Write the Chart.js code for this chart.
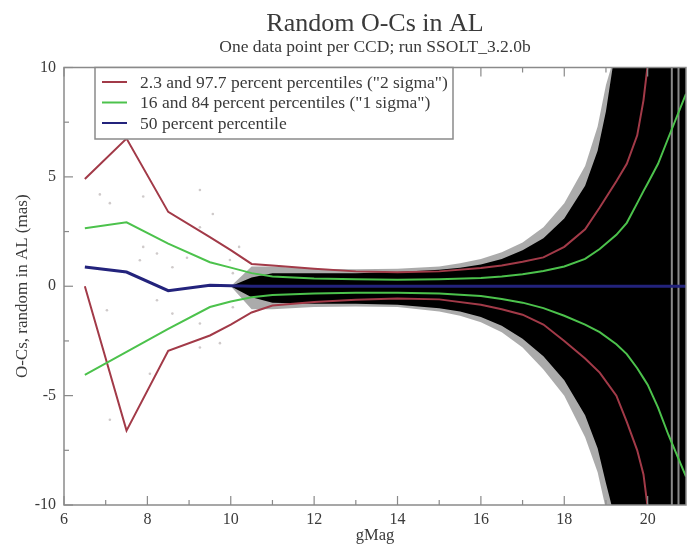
<!DOCTYPE html>
<html>
<head>
<meta charset="utf-8">
<script src="https://cdn.jsdelivr.net/npm/chart.js@4.4.0/dist/chart.umd.min.js"></script>
<style>
  html, body { margin: 0; padding: 0; background: #fff; }
  canvas { display: block; }
</style>
</head>
<body>
<canvas id="ocChart" width="687" height="546"></canvas>
<script>
// percentile curves, sampled in gMag
var pctMag = [6.5, 7.5, 8.5, 9.5, 10, 10.5, 11, 12, 13, 14, 15, 16, 16.5, 17, 17.5, 18, 18.5, 18.85, 19.25, 19.5, 19.75, 19.9, 20, 20.25, 20.5, 20.92];
var p977 = [4.9, 6.75, 3.4, 2.25, 1.65, 1.02, 0.95, 0.8, 0.68, 0.64, 0.68, 0.83, 0.95, 1.12, 1.32, 1.8, 2.6, 3.6, 4.8, 5.6, 6.9, 8.5, 10.1, 14, 18, 25];
var p023 = [0, -6.6, -2.95, -2.25, -1.75, -1.2, -0.88, -0.72, -0.62, -0.56, -0.6, -0.85, -1.05, -1.3, -1.75, -2.5, -3.3, -3.95, -5.0, -6.2, -7.5, -8.6, -10.1, -14, -18, -25];
var p84 = [2.65, 2.92, 1.95, 1.1, 0.85, 0.6, 0.45, 0.35, 0.32, 0.3, 0.32, 0.38, 0.45, 0.55, 0.7, 0.9, 1.25, 1.7, 2.35, 2.9, 3.8, 4.35, 4.7, 5.6, 6.8, 8.8];
var p16 = [-4.05, -3.0, -1.95, -0.95, -0.7, -0.5, -0.4, -0.33, -0.3, -0.3, -0.33, -0.45, -0.58, -0.75, -1.0, -1.35, -1.75, -2.1, -2.65, -3.1, -3.75, -4.2, -4.5, -5.55, -6.8, -8.7];
var p50 = [0.88, 0.65, -0.2, 0.05, 0.02, 0, 0, 0, 0, 0, 0, 0, 0, 0, 0, 0, 0, 0, 0, 0, 0, 0, 0, 0, 0, 0];

// envelope of the dense point cloud (outer = sparse edge, inner = solid black)
var cloudMag = [10.0, 10.5, 11.0, 12.0, 13.0, 14.0, 15.0, 15.5, 16.0, 16.5, 17.0, 17.5, 18.0, 18.5, 18.8, 19.0, 19.2, 20.92];
var outerTop = [0.0, 0.9, 0.9, 0.8, 0.78, 0.8, 0.9, 1.05, 1.25, 1.55, 2.0, 2.7, 3.8, 5.5, 7.3, 9.2, 10.5, 10.5];
var outerBottom = [0.0, -1.05, -1.05, -0.95, -0.92, -0.95, -1.15, -1.35, -1.65, -2.1, -2.8, -3.8, -5.0, -6.9, -8.5, -10.2, -10.5, -10.5];
var innerTop = [0.0, 0.4, 0.6, 0.6, 0.6, 0.65, 0.75, 0.85, 1.0, 1.25, 1.65, 2.2, 3.1, 4.6, 6.2, 8.0, 10.5, 10.5];
var innerBottom = [0.0, -0.5, -0.75, -0.8, -0.8, -0.85, -1.0, -1.15, -1.4, -1.8, -2.4, -3.2, -4.3, -5.9, -7.4, -9.0, -10.5, -10.5];

// sparse bright-star points
var brightMag = [7.1, 7.82, 7.9, 8.23, 8.6, 8.95, 9.26, 9.57, 9.98, 10.05, 10.2, 7.03, 8.23, 8.6, 9.26, 9.74, 10.05, 8.06, 7.1, 9.26, 6.86, 9.26, 7.9];
var brightOC = [3.8, 1.19, 1.8, 1.5, 0.87, 1.3, 2.7, 3.3, 1.2, 0.6, 1.8, -1.1, -0.64, -1.25, -1.7, -2.6, -0.96, -4.0, -6.1, -2.8, 4.2, 4.4, 4.1];

// gap stripes at the faint end
var stripeMag = [20.58, 20.74];

var xTicksMajor = [6, 8, 10, 12, 14, 16, 18, 20];
var yTicksMajor = [-10, -5, 0, 5, 10];

var serif = "'Liberation Serif', 'Times New Roman', serif";
var textColor = '#3a3a3a';

function pts(xs, ys) {
    return xs.map(function (x, i) { return { x: x, y: ys[i] }; });
}

function curve(label, ys, color, width, legendLabel) {
    return {
        label: label,
        legendLabel: legendLabel,
        data: pts(pctMag, ys),
        borderColor: color,
        borderWidth: width,
        pointRadius: 0,
        tension: 0,
        fill: false,
        order: 1
    };
}

var datasets = [
    curve('p50', p50, '#23237c', 3, '50 percent percentile'),
    curve('p84', p84, '#4cc24c', 2, '16 and 84 percent percentiles ("1 sigma")'),
    curve('p16', p16, '#4cc24c', 2),
    curve('p977', p977, '#a23a48', 2, '2.3 and 97.7 percent percentiles ("2 sigma")'),
    curve('p023', p023, '#a23a48', 2),
    {
        label: 'bright',
        type: 'scatter',
        data: pts(brightMag, brightOC),
        pointRadius: 1.3,
        pointBackgroundColor: 'rgba(160,150,150,0.5)',
        pointBorderWidth: 0,
        order: 5
    }
];

stripeMag.forEach(function (m) {
    datasets.push({
        label: 'stripe',
        data: [{ x: m, y: -10 }, { x: m, y: 10 }],
        borderColor: '#8a8a8a',
        borderWidth: 2,
        pointRadius: 0,
        fill: false,
        order: 6
    });
});

datasets.push(
    { label: 'innerTop', data: pts(cloudMag, innerTop), borderWidth: 0, pointRadius: 0, fill: '+1', backgroundColor: '#000', order: 8 },
    { label: 'innerBottom', data: pts(cloudMag, innerBottom), borderWidth: 0, pointRadius: 0, fill: false, order: 8 },
    { label: 'outerTop', data: pts(cloudMag, outerTop), borderWidth: 0, pointRadius: 0, fill: '+1', backgroundColor: 'rgba(0,0,0,0.33)', order: 9 },
    { label: 'outerBottom', data: pts(cloudMag, outerBottom), borderWidth: 0, pointRadius: 0, fill: false, order: 9 }
);

// inward tick marks + frame on top/right
var frameTicks = {
    id: 'frameTicks',
    afterDatasetsDraw: function (chart) {
        var c = chart.ctx, a = chart.chartArea;
        var xs = chart.scales.x, ys = chart.scales.y;
        c.save();
        c.strokeStyle = '#8a8a8a';
        c.lineWidth = 1.5;
        c.strokeRect(a.left, a.top, a.right - a.left, a.bottom - a.top);
        c.lineWidth = 1.2;
        for (var m = 6; m <= 20; m++) {
            var px = xs.getPixelForValue(m);
            var len = (m % 2 === 0) ? 9 : 5;
            c.beginPath();
            c.moveTo(px, a.bottom); c.lineTo(px, a.bottom - len);
            c.moveTo(px, a.top); c.lineTo(px, a.top + len);
            c.stroke();
        }
        for (var v = -10; v <= 10; v += 2.5) {
            var py = ys.getPixelForValue(v);
            var l2 = (v % 5 === 0) ? 9 : 5;
            c.beginPath();
            c.moveTo(a.left, py); c.lineTo(a.left + l2, py);
            c.stroke();
        }
        c.restore();
    }
};

// boxed legend in the upper left of the plot
var boxLegend = {
    id: 'boxLegend',
    afterDraw: function (chart) {
        var c = chart.ctx;
        var items = chart.data.datasets.filter(function (d) { return d.legendLabel; }).reverse();
        var left = 95, top = chart.chartArea.top, right = 453, bottom = 139;
        c.save();
        c.fillStyle = '#fff';
        c.fillRect(left, top, right - left, bottom - top);
        c.strokeStyle = '#8a8a8a';
        c.lineWidth = 1.5;
        c.strokeRect(left, top, right - left, bottom - top);
        c.font = '17.5px ' + serif;
        c.textBaseline = 'middle';
        items.forEach(function (d, i) {
            var y = 82 + i * 20.5;
            c.strokeStyle = d.borderColor;
            c.lineWidth = 2;
            c.beginPath();
            c.moveTo(102, y); c.lineTo(127, y);
            c.stroke();
            c.fillStyle = textColor;
            c.fillText(d.legendLabel, 140, y + 1);
        });
        c.restore();
    }
};

var ctx = document.getElementById('ocChart').getContext('2d');
var ocChart = new Chart(ctx, {
    type: 'line',
    data: { datasets: datasets },
    options: {
        responsive: false,
        animation: false,
        devicePixelRatio: 1,
        layout: { autoPadding: false, padding: { left: 0, right: 1, top: 0, bottom: 0 } },
        plugins: {
            legend: { display: false },
            tooltip: { enabled: false },
            title: {
                display: true,
                text: 'Random O-Cs in AL',
                fullSize: false,
                color: textColor,
                font: { family: serif, size: 26, weight: 'normal', lineHeight: 1 },
                padding: { top: 11, bottom: 0 }
            },
            subtitle: {
                display: true,
                text: 'One data point per CCD; run SSOLT_3.2.0b',
                fullSize: false,
                color: textColor,
                font: { family: serif, size: 17.5, weight: 'normal', lineHeight: 1 },
                padding: { top: 2, bottom: 11 }
            }
        },
        scales: {
            x: {
                type: 'linear',
                min: 6,
                max: 20.92,
                afterFit: function (s) { s.height = 41; },
                afterBuildTicks: function (s) { s.ticks = xTicksMajor.map(function (v) { return { value: v }; }); },
                ticks: { color: textColor, font: { family: serif, size: 16 }, padding: -3, maxRotation: 0 },
                grid: { display: false },
                border: { display: false },
                title: {
                    display: true,
                    text: 'gMag',
                    color: textColor,
                    font: { family: serif, size: 16.5, lineHeight: 1 },
                    padding: { top: 0, bottom: 2 }
                }
            },
            y: {
                type: 'linear',
                min: -10,
                max: 10,
                afterFit: function (s) { s.width = 64; },
                afterBuildTicks: function (s) { s.ticks = yTicksMajor.map(function (v) { return { value: v }; }); },
                ticks: { color: textColor, font: { family: serif, size: 16 }, padding: 0 },
                grid: { display: false },
                border: { display: false },
                title: {
                    display: true,
                    text: 'O-Cs, random in AL (mas)',
                    color: textColor,
                    font: { family: serif, size: 17, lineHeight: 1 },
                    padding: { top: 14, bottom: 0 }
                }
            }
        }
    },
    plugins: [frameTicks, boxLegend]
});
</script>
</body>
</html>
